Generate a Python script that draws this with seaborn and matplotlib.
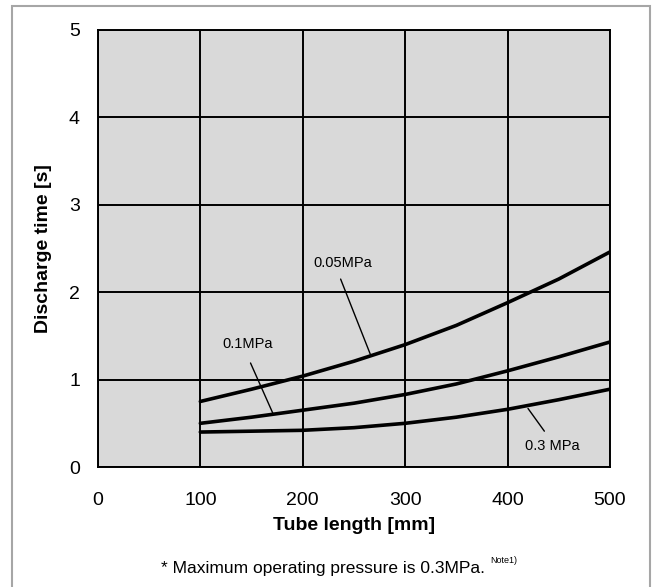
import pandas as pd
import numpy as np
import matplotlib.pyplot as plt
import matplotlib.patches as mpatches
import seaborn as sns

# data
tube_length = [100, 150, 200, 250, 300, 350, 400, 450, 500]
t_005 = [0.75, 0.89, 1.04, 1.21, 1.40, 1.62, 1.88, 2.15, 2.46]
t_01 = [0.50, 0.57, 0.65, 0.73, 0.83, 0.95, 1.10, 1.26, 1.43]
t_03 = [0.40, 0.41, 0.42, 0.45, 0.50, 0.57, 0.66, 0.77, 0.89]
pressures = ["0.05MPa", "0.1MPa", "0.3 MPa"]

x_ticks = [0, 100, 200, 300, 400, 500]
y_ticks = [0, 1, 2, 3, 4, 5]

df = pd.DataFrame({
    "length": tube_length * 3,
    "time": t_005 + t_01 + t_03,
    "pressure": np.repeat(pressures, len(tube_length)),
})

sns.set_style("white")
plt.rcParams['font.family'] = ['Liberation Sans', 'DejaVu Sans']
plt.rcParams['text.color'] = 'black'
plt.rcParams['axes.labelcolor'] = 'black'

fig = plt.figure(figsize=(6.53, 5.87), dpi=100)
ax = fig.add_axes([0.150, 0.2044, 0.784, 0.7446])
ax.set_facecolor("#d9d9d9")

sns.lineplot(data=df, x="length", y="time", units="pressure", estimator=None,
             color="black", linewidth=2.6, ax=ax, legend=False)

ax.set_xlim(0, 500)
ax.set_ylim(0, 5)
ax.set_xticks(x_ticks)
ax.set_yticks(y_ticks)
ax.grid(True, color="black", linewidth=1.4)
ax.set_axisbelow(True)
for s in ax.spines.values():
    s.set_color("black")
    s.set_linewidth(1.4)
ax.tick_params(axis="both", length=0, labelsize=14, colors="black")
ax.tick_params(axis="x", pad=18)
ax.tick_params(axis="y", pad=13)

ax.set_xlabel("Tube length [mm]", fontsize=14, fontweight="bold", labelpad=6)
ax.set_ylabel("Discharge time [s]", fontsize=14, fontweight="bold", labelpad=12)

# curve labels with leader lines
lbl = dict(fontsize=10.5, ha="center", va="center")
ax.text(239, 2.33, pressures[0], **lbl)
ax.plot([237, 266], [2.15, 1.29], color="black", linewidth=1)
ax.text(146, 1.41, pressures[1], **lbl)
ax.plot([149, 171], [1.19, 0.61], color="black", linewidth=1)
ax.text(444, 0.24, pressures[2], **lbl)
ax.plot([420, 436], [0.67, 0.41], color="black", linewidth=1)

# footnote with a small superscript note mark after it
note = fig.text(0.495, 0.032, "* Maximum operating pressure is 0.3MPa.", fontsize=12.5,
                ha="center", va="center")
fig.canvas.draw()
bb = note.get_window_extent(renderer=fig.canvas.get_renderer())
fig.text((bb.x1 + 5) / fig.bbox.width, 0.045, "Note1)", fontsize=6.5,
         ha="left", va="center")

# outer frame
frame = mpatches.Rectangle((12 / 653, -0.05), 638 / 653, 1 - 6 / 587 + 0.05,
                           transform=fig.transFigure, fill=False,
                           edgecolor="#a6a6a6", linewidth=1.5, clip_on=False)
fig.add_artist(frame)

fig.savefig("out.png", dpi=100)
